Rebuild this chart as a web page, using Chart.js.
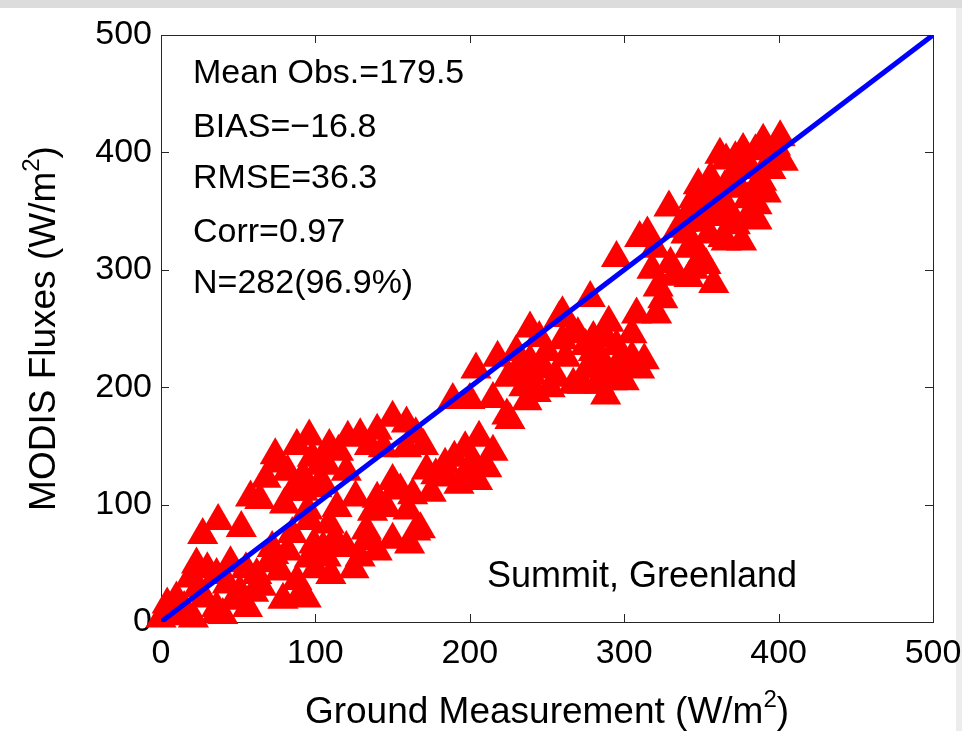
<!DOCTYPE html>
<html>
<head>
<meta charset="utf-8">
<script src="https://cdn.jsdelivr.net/npm/chart.js@4.4.1/dist/chart.umd.min.js"></script>
<style>
  html, body { margin: 0; padding: 0; background: #fff; }
  #wrap { width: 962px; height: 731px; }
</style>
</head>
<body>
<div id="wrap"><canvas id="fluxChart" width="962" height="731"></canvas></div>
<script>
const nearOrigin = [
  [0,3],[4,15],[10,20],[13,5],[21,3],[5,8],[15,12],[19,37],[24,29],[23,49],[27,74],[28,20],
  [30,45],[36,40],[36,12],[40,6],[36,7],[43,32],[45,50],[47,18],[51,26],[55,45],[56,12],
  [60,25],[62,40],[65,30],[37,86],[52,80],[58,106],[64,104],[72,63],[73,57],[77,43],[79,19],
  [88,35],[90,23],[94,20],[70,50],[82,60],[85,75]
];
const lowerBand = [
  [96,54],[99,66],[105,63],[107,55],[112,69],[116,63],[120,63],[129,55],[133,69],[96,86],
  [109,83],[92,111],[114,97],[126,106],[137,94],[146,97],[161,66],[165,77],[168,79],[152,114],
  [155,112],[163,108],[150,120],[172,129],[178,125],[184,134],[198,125],[193,117],[185,123],
  [202,137],[211,131],[105,117],[103,133],[120,128],[100,45],[110,40],[125,45],[140,60],
  [150,70],[95,95],[133,78],[140,105],[160,95],[175,110],[190,140],[215,145],[205,120]
];
const upperBand = [
  [76,135],[85,111],[92,124],[101,114],[107,134],[74,142],[96,158],[109,150],[121,157],
  [129,159],[144,148],[159,148],[150,174],[159,169],[197,148],[206,157],[189,189],[200,189],
  [82,128],[98,140],[115,145],[135,150],[140,163],[165,160],[170,150],[88,150],[68,122],[80,100]
];
const midCluster = [
  [204,215],[225,208],[230,213],[239,222],[243,195],[252,199],[256,208],[224,176],[237,188],
  [226,172],[239,250],[245,242],[258,259],[267,247],[280,242],[286,222],[297,222],[273,202],
  [284,202],[267,202],[286,211],[288,193],[301,216],[270,245],[288,242],[260,263],[278,276],
  [295,310],[313,223],[308,262],[321,262],[290,255],[305,245],[280,230],[292,205],[305,225],
  [276,215],[215,190],[235,200],[248,215],[262,225],[275,235],[260,240],[250,230],[295,235],
  [300,205],[310,215],[230,230],[240,210],[218,225]
];
const highCluster = [
  [315,331],[310,327],[329,353],[344,352],[353,364],[356,378],[366,393],[377,402],[385,401],
  [393,402],[401,413],[403,392],[389,375],[375,369],[386,355],[368,350],[386,342],[376,324],
  [364,327],[342,318],[353,304],[366,324],[322,285],[333,294],[342,293],[333,296],[358,288],
  [330,305],[318,300],[345,300],[350,310],[325,275],[350,340],[360,345],[372,338],[380,360],
  [395,385],[370,380],[360,365],[380,390],[340,330],[355,330],[395,395],[385,370],[365,355],
  [348,372],[338,340],[362,398],[372,395],[320,318],[335,335],[345,360],[355,350],[365,370],
  [375,385],[390,410],[398,405],[380,345],[392,365],[345,320]
];
const oneToOne = [[0,0],[500,500]];
const axisTicks = [0, 100, 200, 300, 400, 500];
const statLines = ['Mean Obs.=179.5', 'BIAS=\u221216.8', 'RMSE=36.3', 'Corr=0.97', 'N=282(96.9%)'];
const siteName = 'Summit, Greenland';

const FONT = '"Liberation Sans", Arial, sans-serif';
const toXY = p => ({ x: p[0], y: p[1] });
const allPoints = [].concat(nearOrigin, lowerBand, upperBand, midCluster, highCluster).map(toXY);

// draws text + superscript + tail centred on the current origin
function drawSup(ctx, main, sup, tail, size) {
  const supSize = Math.round(size * 0.66);
  ctx.font = size + 'px ' + FONT;
  const w1 = ctx.measureText(main).width;
  const w3 = ctx.measureText(tail).width;
  ctx.font = supSize + 'px ' + FONT;
  const w2 = ctx.measureText(sup).width;
  let x = -(w1 + w2 + w3) / 2;
  ctx.font = size + 'px ' + FONT;
  ctx.fillText(main, x, 0);
  x += w1;
  ctx.font = supSize + 'px ' + FONT;
  ctx.fillText(sup, x, -size * 0.42);
  x += w2;
  ctx.font = size + 'px ' + FONT;
  ctx.fillText(tail, x, 0);
}

const framePlugin = {
  id: 'frame',
  beforeDraw(chart) {
    const ctx = chart.ctx;
    ctx.save();
    ctx.fillStyle = '#fff';
    ctx.fillRect(0, 0, chart.width, chart.height);
    ctx.fillStyle = '#dcdcdc';
    ctx.fillRect(0, 0, chart.width, 8);
    ctx.fillStyle = '#ececec';
    ctx.fillRect(chart.width - 6, 8, 6, chart.height - 8);
    ctx.restore();
  },
  // box and inward ticks go under the markers
  beforeDatasetsDraw(chart) {
    const { ctx, chartArea: a, scales } = chart;
    ctx.save();
    ctx.strokeStyle = '#262626';
    ctx.lineWidth = 1;
    ctx.strokeRect(a.left + 0.5, a.top + 0.5, a.right - a.left, a.bottom - a.top);
    ctx.beginPath();
    axisTicks.forEach(v => {
      const px = Math.round(scales.x.getPixelForValue(v)) + 0.5;
      const py = Math.round(scales.y.getPixelForValue(v)) + 0.5;
      ctx.moveTo(px, a.bottom); ctx.lineTo(px, a.bottom - 8);
      ctx.moveTo(px, a.top); ctx.lineTo(px, a.top + 8);
      ctx.moveTo(a.left, py); ctx.lineTo(a.left + 8, py);
      ctx.moveTo(a.right, py); ctx.lineTo(a.right - 8, py);
    });
    ctx.stroke();
    ctx.restore();
  },
  afterDraw(chart) {
    const { ctx, chartArea: a } = chart;
    ctx.save();
    ctx.fillStyle = '#000';
    ctx.textBaseline = 'alphabetic';
    ctx.textAlign = 'left';

    ctx.save();
    ctx.translate((a.left + a.right) / 2, 723);
    drawSup(ctx, 'Ground Measurement (W/m', '2', ')', 37);
    ctx.restore();

    ctx.save();
    ctx.translate(55, (a.top + a.bottom) / 2);
    ctx.rotate(-Math.PI / 2);
    drawSup(ctx, 'MODIS Fluxes (W/m', '2', ')', 37);
    ctx.restore();

    ctx.font = '34px ' + FONT;
    const baselines = [83, 137, 188, 242, 293];
    statLines.forEach((t, i) => ctx.fillText(t, 193, baselines[i]));
    ctx.font = '36px ' + FONT;
    ctx.fillText(siteName, 487, 587);
    ctx.restore();
  }
};

new Chart(document.getElementById('fluxChart'), {
  type: 'scatter',
  data: {
    datasets: [
      {
        label: '1:1',
        data: oneToOne.map(toXY),
        showLine: true,
        borderColor: '#0000ff',
        borderWidth: 5,
        pointRadius: 0,
        fill: false
      },
      {
        label: 'MODIS',
        data: allPoints,
        pointStyle: 'triangle',
        pointRadius: 18,
        pointBackgroundColor: '#ff0000',
        pointBorderColor: '#ff0000',
        pointBorderWidth: 0,
        clip: false
      }
    ]
  },
  plugins: [framePlugin],
  options: {
    responsive: false,
    animation: false,
    devicePixelRatio: 1,
    layout: { padding: { top: 35, right: 29, left: 0, bottom: 0 } },
    plugins: { legend: { display: false }, tooltip: { enabled: false } },
    scales: {
      x: {
        type: 'linear', min: 0, max: 500,
        grid: { display: false, drawTicks: false },
        border: { display: false },
        ticks: { stepSize: 100, color: '#000', padding: 11, maxRotation: 0, font: { family: FONT, size: 34 } },
        afterFit(s) { s.height = 109; s.paddingLeft = 0; s.paddingRight = 0; }
      },
      y: {
        type: 'linear', min: 0, max: 500,
        grid: { display: false, drawTicks: false },
        border: { display: false },
        ticks: { stepSize: 100, color: '#000', padding: 9, font: { family: FONT, size: 34 } },
        afterFit(s) { s.width = 161; s.paddingTop = 0; s.paddingBottom = 0; }
      }
    }
  }
});
</script>
</body>
</html>
